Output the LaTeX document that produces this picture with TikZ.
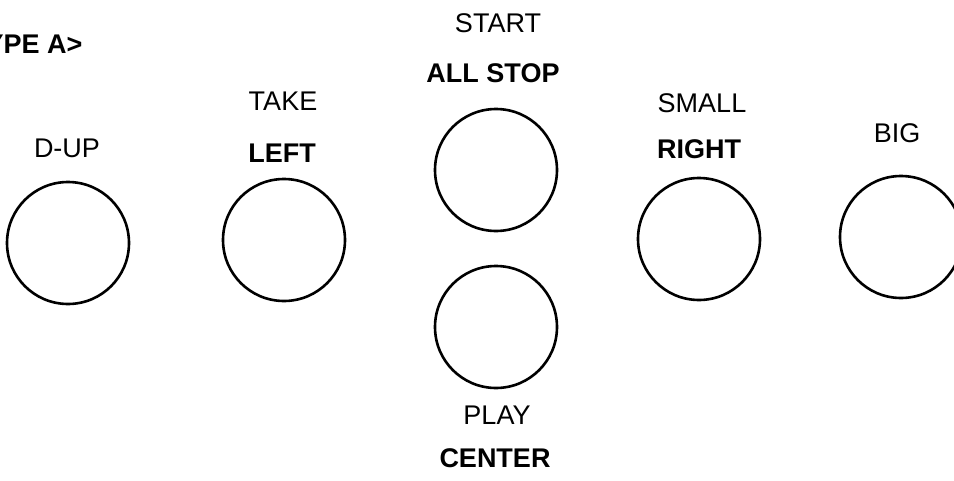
\documentclass[tikz,border=0pt]{standalone}
\usepackage{fontspec}
\setmainfont{Liberation Sans}
\usepackage{tikz}

\begin{document}
\begin{tikzpicture}[x=1pt,y=-1pt,
  button/.style={draw,circle,line width=2.6pt,minimum size=122pt,inner sep=0pt},
  upper/.style={anchor=base,font=\fontsize{27}{30}\selectfont},
  lower/.style={anchor=base,font=\fontsize{27}{30}\selectfont\bfseries}]
\useasboundingbox (0,0) rectangle (954,480);
\path (86,53) node[lower,anchor=base east] (type) {YPE A>}
		(68,243) node[button] (dup) {}
		(67,157) node[upper] (dupl) {D-UP}
		(284,240) node[button] (left) {}
		(283,110) node[upper] (take) {TAKE}
		(282,162) node[lower] (leftl) {LEFT}
		(496,170) node[button] (stop) {}
		(498,32) node[upper] (start) {START}
		(493,82) node[lower] (stopl) {ALL STOP}
		(496,327) node[button] (center) {}
		(497,424) node[upper] (play) {PLAY}
		(495,467) node[lower] (centerl) {CENTER}
		(699,239) node[button] (right) {}
		(702,112) node[upper] (small) {SMALL}
		(699,158) node[lower] (rightl) {RIGHT}
		(901,237) node[button] (big) {}
		(897,142) node[upper] (bigl) {BIG}
		;
\end{tikzpicture}
\end{document}
